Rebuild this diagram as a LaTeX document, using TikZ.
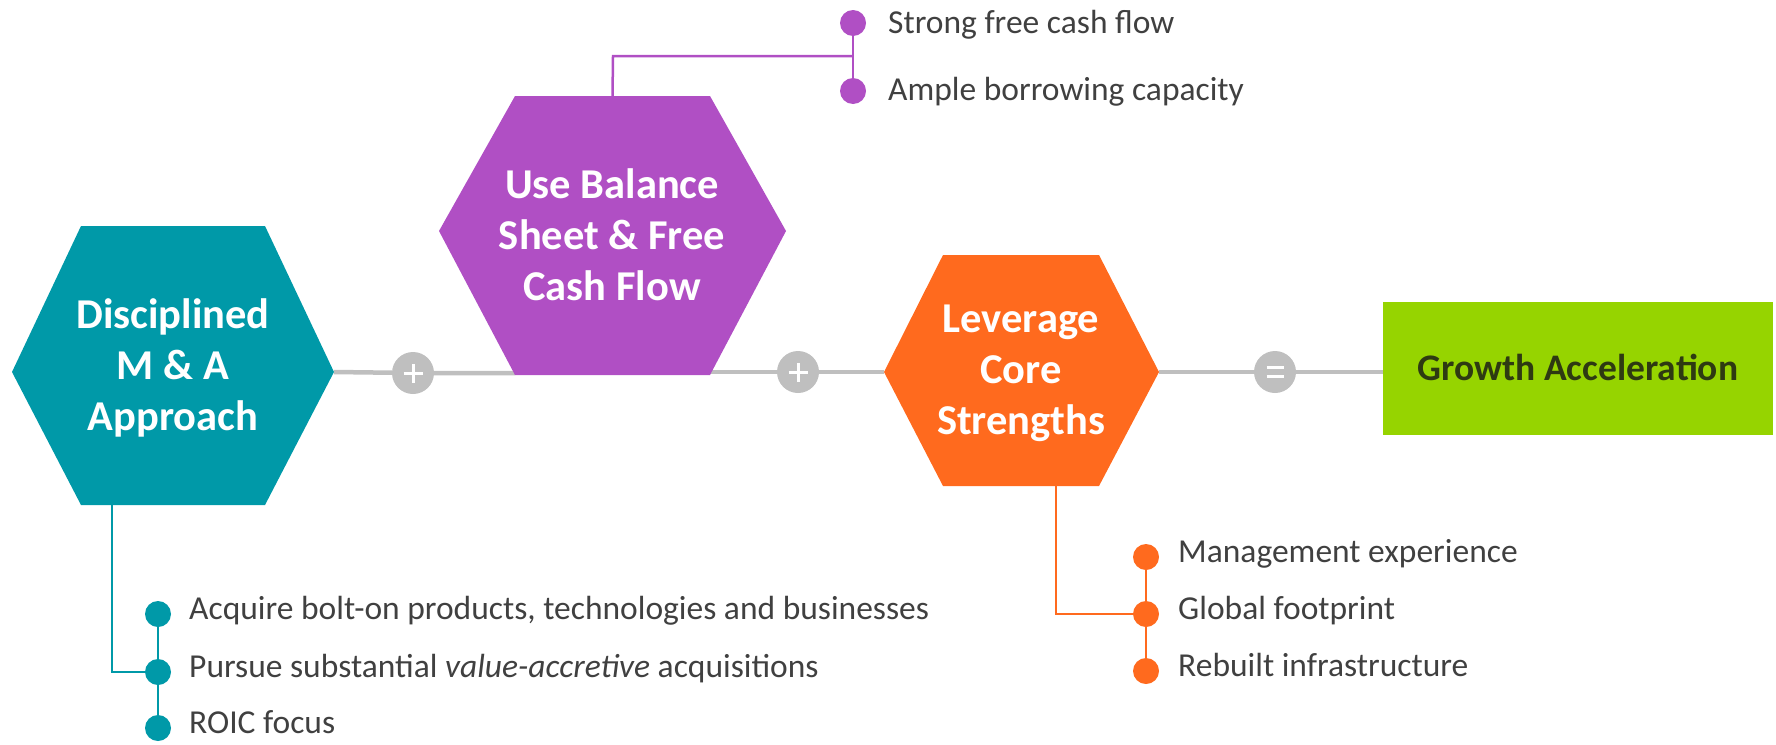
\documentclass[tikz,border=0pt]{standalone}
\usepackage{fontspec}
\setmainfont{Carlito}
\usetikzlibrary{backgrounds}

\definecolor{cTeal}{HTML}{0099A8}
\definecolor{cPurple}{HTML}{B04FC4}
\definecolor{cOrange}{HTML}{FF6A1E}
\definecolor{cGreen}{HTML}{96D400}
\definecolor{cGreenText}{HTML}{2E3A12}
\definecolor{cGrey}{HTML}{BFBFBF}
\definecolor{cText}{HTML}{404040}

% hexagon: name, x left vertex, x top-left, x top-right, x right vertex,
%          y top, y side vertices, y bottom, fill colour
\newcommand\drawhexagon[9]{%
  \coordinate (#1-l) at (#2,#7);
  \coordinate (#1-r) at (#5,#7);
  \coordinate (#1-bl) at (#3,#8);
  \coordinate (#1-br) at (#4,#8);
  \coordinate (#1-top) at ({(#3+#4)/2},#6);
  \fill[#9] (#2,#7) -- (#3,#6) -- (#4,#6) -- (#5,#7) -- (#4,#8) -- (#3,#8) -- cycle;
}

\begin{document}
\begin{tikzpicture}[x=1pt,y=-1pt,
  title/.style={text=white, font=\fontsize{42.5}{51}\selectfont\bfseries, align=center},
  item/.style={text=cText, font=\fontsize{33.5}{40}\selectfont, inner sep=0pt},
  dot/.style={circle, fill=#1, minimum size=26pt, inner sep=0pt},
  mainline/.style={cGrey, line width=4.5pt},
  branch/.style={#1, line width=2.5pt},
  opcircle/.style={circle, fill=cGrey, minimum size=42pt, inner sep=0pt},
  plussign/.style={opcircle, path picture={
      \draw[white, line width=3pt] (path picture bounding box.center) ++(-9.5pt,0) -- ++(19pt,0);
      \draw[white, line width=3pt] (path picture bounding box.center) ++(0,-9.5pt) -- ++(0,19pt);}},
  equalsign/.style={opcircle, path picture={
      \draw[white, line width=3.5pt] (path picture bounding box.center) ++(-8.5pt,-4.5pt) -- ++(17pt,0);
      \draw[white, line width=3.5pt] (path picture bounding box.center) ++(-8.5pt,4.5pt) -- ++(17pt,0);}}
]
\useasboundingbox (0,0) rectangle (1776,744);

% the three hexagons
\drawhexagon{ma}{12}{81}{265}{334}{226}{372}{505}{cTeal}
\drawhexagon{bs}{439}{515}{710}{786}{96}{231}{375}{cPurple}
\drawhexagon{cs}{884}{943}{1099}{1159}{255}{372}{486}{cOrange}

\node[title] (maT) at (173,368) {Disciplined\\M \& A\\Approach};
\node[title] (bsT) at (612,235) {Use Balance\\Sheet \& Free\\Cash Flow};
\node[title] (csT) at (1021,373) {Leverage\\Core\\Strengths};

% result box
\fill[cGreen] (1383,302) rectangle (1773,435);
\coordinate (ga-l) at (1383,372);
\node[text=cGreenText, font=\fontsize{37.5}{44}\selectfont\bfseries, anchor=base] (gaT) at (1578,380) {Growth Acceleration};

% operators on the main line
\node[plussign] (op1) at (413,373) {};
\node[plussign] (op2) at (798,372) {};
\node[equalsign] (op3) at (1275,372) {};

\begin{scope}[on background layer]
  \draw[mainline] (ma-r) -- (op1) -- (op1 -| bs-bl);
  \draw[mainline] (op2 -| bs-br) -- (op2) -- (cs-l);
  \draw[mainline] (cs-r) -- (op3) -- (ga-l);
\end{scope}

% purple details
\node[dot=cPurple] (b1) at (853,23) {};
\node[dot=cPurple] (b2) at (853,91) {};
\node[item, anchor=base west] (b1t) at (888,33) {Strong free cash flow};
\node[item, anchor=base west] (b2t) at (888,100.5) {Ample borrowing capacity};
\coordinate (bsJ) at (613,56);
\begin{scope}[on background layer]
  \draw[branch=cPurple] (bs-top) -- (bsJ) -- (bsJ -| b1);
  \draw[branch=cPurple] (b1) -- (b2);
\end{scope}

% teal details
\node[dot=cTeal] (m1) at (158,614) {};
\node[dot=cTeal] (m2) at (158,672) {};
\node[dot=cTeal] (m3) at (158,728) {};
\node[item, anchor=base west] (m1t) at (189,619.5) {Acquire bolt-on products, technologies and businesses};
\node[item, anchor=base west] (m2t) at (189,677.5) {Pursue substantial \textit{value-accretive} acquisitions};
\node[item, anchor=base west] (m3t) at (189,733.5) {ROIC focus};
\coordinate (maD) at (112,505);
\begin{scope}[on background layer]
  \draw[branch=cTeal] (maD) -- (maD |- m2) -- (m2);
  \draw[branch=cTeal] (m1) -- (m3);
\end{scope}

% orange details
\node[dot=cOrange] (c1) at (1146,557) {};
\node[dot=cOrange] (c2) at (1146,614) {};
\node[dot=cOrange] (c3) at (1146,671) {};
\node[item, anchor=base west] (c1t) at (1178,562.5) {Management experience};
\node[item, anchor=base west] (c2t) at (1178,619.5) {Global footprint};
\node[item, anchor=base west] (c3t) at (1178,676.5) {Rebuilt infrastructure};
\coordinate (csD) at (1056,486);
\begin{scope}[on background layer]
  \draw[branch=cOrange] (csD) -- (csD |- c2) -- (c2);
  \draw[branch=cOrange] (c1) -- (c3);
\end{scope}
\end{tikzpicture}
\end{document}
